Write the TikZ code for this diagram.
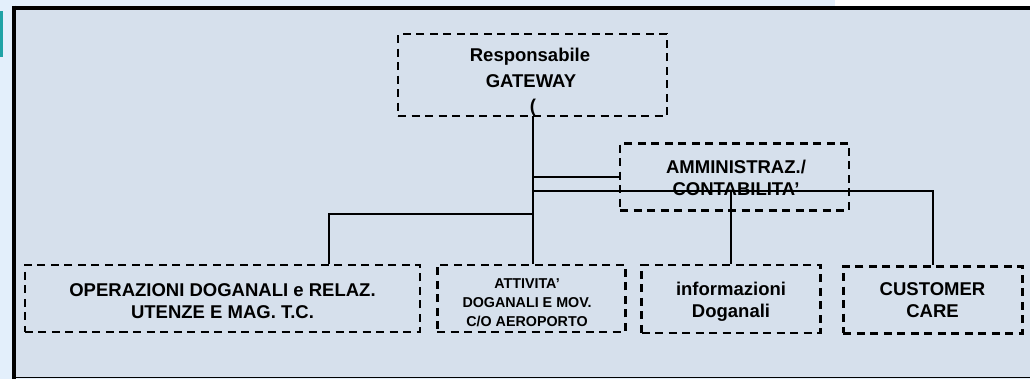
\documentclass[tikz,border=0pt]{standalone}
\usepackage{fontspec}
\setmainfont{Liberation Sans}
\definecolor{outerbg}{HTML}{E3EFFB}
\definecolor{innerbg}{HTML}{D6E0EC}
\definecolor{tealbar}{HTML}{1FA3A6}
\newcommand\bigtxt{\fontsize{18.5bp}{22bp}\selectfont\bfseries}
\newcommand\smalltxt{\fontsize{14.3bp}{19bp}\selectfont\bfseries}
\begin{document}
\begin{tikzpicture}[x=1bp,y=-1bp,
  dbox/.style={draw=black, line width=2.6bp, dash pattern=on 8bp off 5.5bp, rectangle, inner sep=0pt},
  lbl/.style={anchor=base, inner sep=0pt, font=\bigtxt},
  slbl/.style={anchor=base, inner sep=0pt, font=\smalltxt},
  conn/.style={draw=black, line width=1.9bp}]
\useasboundingbox (0,0) rectangle (1030,379);
% background
\fill[outerbg] (0,0) rectangle (1030,379);
\fill[white] (835,0) rectangle (1030,6);
\fill[tealbar] (0,11) rectangle (3,57);
\fill[innerbg] (14,8) rectangle (1030,378);
\draw[black, line width=4bp] (12,7.5) -- (1030,7.5);
\draw[black, line width=4bp] (14,5.5) -- (14,379);
\draw[black, line width=1.5bp] (14,377.6) -- (1030,377.6);
% boxes
\node[dbox, minimum width=269bp, minimum height=82bp] (top) at (532.5,75) {};
\node[dbox, minimum width=229bp, minimum height=67bp] (amm) at (734.5,176.7) {};
\node[dbox, minimum width=395bp, minimum height=67bp] (ops) at (222.5,298.3) {};
\node[dbox, minimum width=188bp, minimum height=67bp] (att) at (531.2,298.3) {};
\node[dbox, minimum width=179bp, minimum height=68bp] (info) at (731.2,298.8) {};
\node[dbox, minimum width=179bp, minimum height=67bp] (cust) at (932.8,299.7) {};
% texts
\node[lbl] (t1) at (530,61) {Responsabile};
\node[lbl] (t2) at (531,87) {GATEWAY};
\node[lbl] (t3) at (533,112) {(};
\node[lbl] (a1) at (736,173) {AMMINISTRAZ./};
\node[lbl] (a2) at (736,195) {CONTABILITA’};
\node[lbl] (o1) at (222.5,296) {OPERAZIONI DOGANALI e RELAZ.};
\node[lbl] (o2) at (222.5,318) {UTENZE E MAG. T.C.};
\node[slbl] (v1) at (527,288.5) {ATTIVITA’};
\node[slbl] (v2) at (527,307.5) {DOGANALI E MOV.};
\node[slbl] (v3) at (527,326.5) {C/O AEROPORTO};
\node[lbl] (i1) at (731,295) {informazioni};
\node[lbl] (i2) at (731,317) {Doganali};
\node[lbl] (c1) at (932.5,295) {CUSTOMER};
\node[lbl] (c2) at (932.5,317) {CARE};
% connectors
\coordinate (t0) at (533,116);
\coordinate (j1) at (533,190.7);
\coordinate (j2) at (533,214);
\coordinate (opsx) at (329.3,0);
\draw[conn] (t0) -- (t0 |- att.north);
\draw[conn] (t0 |- amm.west) -- (amm.west);
\draw[conn] (j1) -| (cust.north);
\draw[conn] (info.north |- j1) -- (info.north);
\draw[conn] (j2) -| (ops.north -| opsx);
\end{tikzpicture}
\end{document}
